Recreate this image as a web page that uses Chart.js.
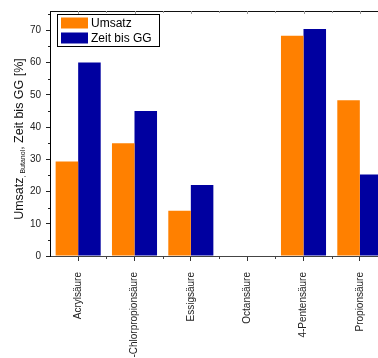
<!DOCTYPE html>
<html><head><meta charset="utf-8">
<script src="https://cdn.jsdelivr.net/npm/chart.js@4/dist/chart.umd.min.js"></script>
<style>
html,body{margin:0;padding:0;background:#fff;overflow:hidden;width:378px;height:358px;}
#wrap{position:absolute;left:0;top:0;width:378px;height:358px;overflow:hidden;}
canvas{display:block;}
</style></head>
<body><div id="wrap"><canvas id="c" width="388" height="358"></canvas></div>
<script>
const categories = ["Acrylsäure","3-Chlorpropionsäure","Essigsäure","Octansäure","4-Pentensäure","Propionsäure"];
const umsatz = [29.3, 35, 14, 0, 68.3, 48.3];
const zeitBisGG = [60, 45, 22, 0, 70.4, 25.3];
const yTicks = [0,10,20,30,40,50,60,70];
const seriesLabels = ["Umsatz","Zeit bis GG"];
const FONT = "'Liberation Sans', Arial, sans-serif";

const extras = {
  id:'extras',
  afterDraw(chart){
    const ctx = chart.ctx, ca = chart.chartArea;
    const x = chart.scales.x, y = chart.scales.y;
    ctx.save();
    ctx.strokeStyle = '#111'; ctx.lineWidth = 1;
    ctx.beginPath(); ctx.moveTo(ca.left, ca.top+0.5); ctx.lineTo(ca.right, ca.top+0.5); ctx.stroke();
    ctx.strokeStyle = '#222';
    for (let v = 5; v < 76; v += 10) {
      const py = Math.round(y.getPixelForValue(v)) + 0.5;
      ctx.beginPath(); ctx.moveTo(ca.left-2, py); ctx.lineTo(ca.left, py); ctx.stroke();
    }
    for (let i = 0; i < categories.length - 1; i++) {
      const px = Math.round((x.getPixelForValue(i) + x.getPixelForValue(i+1)) / 2) + 0.5;
      ctx.strokeStyle = '#444';
      ctx.beginPath(); ctx.moveTo(px, ca.bottom); ctx.lineTo(px, ca.bottom+3); ctx.stroke();
      ctx.strokeStyle = '#999';
      ctx.beginPath(); ctx.moveTo(px, ca.top); ctx.lineTo(px, ca.top+2); ctx.stroke();
    }
    ctx.strokeStyle = '#999';
    for (let i = 0; i < categories.length; i++) {
      const px = Math.round(x.getPixelForValue(i)) + 0.5;
      ctx.beginPath(); ctx.moveTo(px, ca.top); ctx.lineTo(px, ca.top+3); ctx.stroke();
    }
    const ds = chart.data.datasets;
    const lx = 57, ly = 14, lw = 102, lh = 32;
    ctx.fillStyle = '#fff'; ctx.fillRect(lx, ly, lw, lh);
    ctx.strokeStyle = '#000'; ctx.lineWidth = 1;
    ctx.strokeRect(lx+0.5, ly+0.5, lw, lh);
    ctx.font = '12px ' + FONT; ctx.textBaseline = 'middle'; ctx.textAlign = 'left';
    ds.forEach((d, i) => {
      const sy = 17.5 + i * 15;
      ctx.fillStyle = d.backgroundColor;
      ctx.fillRect(61, sy, 27, 11);
      ctx.fillStyle = '#000';
      ctx.fillText(d.label, 91, sy + 6);
    });
    const parts = [
      {t:'Umsatz', f:12.5, dy:0},
      {t:', Butanol', f:7, dy:2},
      {t:', Zeit bis GG [%]', f:12.5, dy:0}
    ];
    let total = 0;
    parts.forEach(p => { ctx.font = p.f + 'px ' + FONT; p.w = ctx.measureText(p.t).width; total += p.w; });
    ctx.translate(23, 139);
    ctx.rotate(-Math.PI/2);
    ctx.textBaseline = 'alphabetic'; ctx.fillStyle = '#111';
    let cx = -total/2;
    parts.forEach(p => { ctx.font = p.f + 'px ' + FONT; ctx.fillText(p.t, cx, p.dy); cx += p.w; });
    ctx.restore();
  }
};

new Chart(document.getElementById('c'), {
  type: 'bar',
  data: {
    labels: categories,
    datasets: [
      {label: seriesLabels[0], data: umsatz, backgroundColor: '#FF8000', borderWidth: 0, barPercentage: 1.0, categoryPercentage: 0.8},
      {label: seriesLabels[1], data: zeitBisGG, backgroundColor: '#0000A0', borderWidth: 0, barPercentage: 1.0, categoryPercentage: 0.8}
    ]
  },
  options: {
    responsive: false,
    animation: false,
    layout: {padding: {top: 8, left: 0, right: 0, bottom: 0}},
    plugins: {legend: {display: false}, tooltip: {enabled: false}},
    scales: {
      x: {
        offset: true,
        grid: {offset: false, drawOnChartArea: false, tickLength: 5, color: '#333'},
        border: {color: '#444', width: 1},
        ticks: {minRotation: 90, maxRotation: 90, autoSkip: false, padding: 11, color: '#222', font: {family: FONT, size: 10}},
        afterFit(s){ s.height = 102; s.paddingLeft = 0; s.paddingRight = 0; }
      },
      y: {
        min: 0, max: 76,
        afterBuildTicks(s){ s.ticks = yTicks.map(v => ({value: v})); },
        grid: {drawOnChartArea: false, tickLength: 4, color: '#222'},
        border: {color: '#000', width: 1},
        ticks: {padding: 5, color: '#222', font: {family: FONT, size: 10}},
        afterFit(s){ s.width = 50; }
      }
    }
  },
  plugins: [extras]
});
</script></body></html>
